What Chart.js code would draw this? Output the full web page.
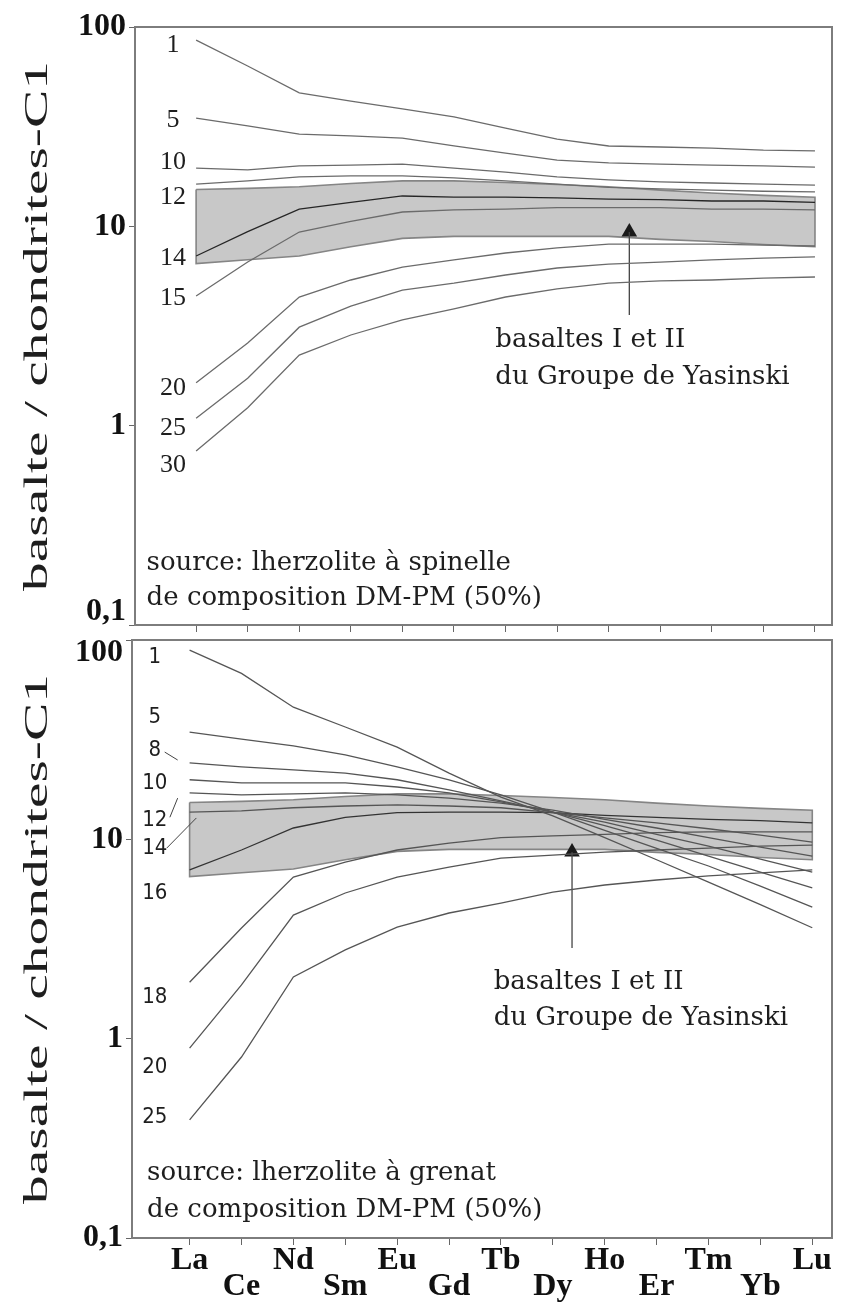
<!DOCTYPE html>
<html>
<head>
<meta charset="utf-8">
<script src="https://cdn.jsdelivr.net/npm/chart.js@4.4.1/dist/chart.umd.min.js"></script>
<style>
  body { margin: 0; background: #fff; width: 841px; height: 1304px; position: relative; overflow: hidden; }
  .panel { position: absolute; left: 0; }
  #topWrap { top: 0; }
  #botWrap { top: 600px; }
</style>
</head>
<body>
<div class="panel" id="topWrap"><canvas id="topChart" width="841" height="645"></canvas></div>
<div class="panel" id="botWrap"><canvas id="botChart" width="841" height="704"></canvas></div>
<script>
// REE, chondrite-normalised
const ree = ['La', 'Ce', 'Nd', 'Sm', 'Eu', 'Gd', 'Tb', 'Dy', 'Ho', 'Er', 'Tm', 'Yb', 'Lu'];
const yTicks = [0.1, 1, 10, 100];
const yTickLabels = ['0,1', '1', '10', '100'];
const yTitle = 'basalte / chondrites-C1';

// envelope of the Yasinski basalts I and II (same in both panels)
const bandUpper = [15.3, 15.5, 15.8, 16.4, 16.9, 16.9, 16.6, 16.2, 15.8, 15.2, 14.7, 14.3, 14.0];
const bandLower = [6.5, 6.8, 7.1, 7.9, 8.7, 8.9, 8.9, 8.9, 8.9, 8.6, 8.4, 8.1, 7.9];

// spinel lherzolite, % melting
const spinelNames = ['1', '5', '10', '12', '14', '15', '20', '25', '30'];
const sp1 = [86, 63.7, 46.7, 42.5, 38.8, 35.4, 31.1, 27.4, 25.3, 25.0, 24.7, 24.1, 23.9];
const sp5 = [34.9, 31.9, 29.0, 28.4, 27.7, 25.3, 23.3, 21.5, 20.8, 20.5, 20.3, 20.1, 19.8];
const sp10 = [19.6, 19.2, 20.1, 20.3, 20.5, 19.6, 18.7, 17.7, 17.1, 16.7, 16.5, 16.3, 16.1];
const sp12 = [16.3, 16.9, 17.7, 17.9, 17.9, 17.5, 16.9, 16.3, 15.7, 15.4, 15.2, 15.0, 14.9];
const sp14 = [7.1, 9.4, 12.2, 13.2, 14.2, 14.0, 14.0, 13.9, 13.7, 13.6, 13.4, 13.4, 13.2];
const sp15 = [4.47, 6.62, 9.36, 10.6, 11.8, 12.1, 12.2, 12.4, 12.4, 12.4, 12.2, 12.2, 12.1];
const sp20 = [1.64, 2.60, 4.42, 5.38, 6.25, 6.78, 7.35, 7.79, 8.15, 8.15, 8.15, 8.05, 7.97];
const sp25 = [1.09, 1.73, 3.12, 3.98, 4.79, 5.19, 5.70, 6.18, 6.47, 6.62, 6.78, 6.93, 7.02];
const sp30 = [0.746, 1.23, 2.26, 2.85, 3.39, 3.85, 4.42, 4.85, 5.19, 5.32, 5.38, 5.50, 5.57];
const spinelLabelY = [81, 34.1, 21.0, 14.0, 6.93, 4.37, 1.54, 0.97, 0.634];

// garnet lherzolite, % melting
const garnetNames = ['1', '5', '8', '10', '12', '14', '16', '18', '20', '25'];
const gt1 = [89, 68, 46, 36.6, 29, 21.5, 16.3, 13.1, 10.2, 7.9, 6.1, 4.7, 3.6];
const gt5 = [34.5, 31.8, 29.4, 26.5, 23.1, 19.9, 16.7, 13.7, 11.1, 9.0, 7.35, 5.83, 4.57];
const gt8 = [24.2, 23.1, 22.3, 21.5, 19.9, 17.7, 15.6, 13.7, 11.7, 9.9, 8.24, 6.85, 5.7];
const gt10 = [19.9, 19.2, 19.2, 19.2, 18.3, 17.1, 15.4, 13.7, 12.2, 10.6, 9.25, 7.96, 6.85];
const gt12 = [17.1, 16.7, 16.9, 17.1, 16.7, 16.1, 15.2, 14.0, 12.6, 11.4, 10.2, 9.15, 8.24];
const gt14 = [13.7, 13.9, 14.4, 14.7, 14.9, 14.7, 14.4, 13.6, 12.8, 12.1, 11.3, 10.5, 9.69];
const gt16 = [7.02, 8.84, 11.4, 12.9, 13.6, 13.7, 13.7, 13.6, 13.2, 12.9, 12.6, 12.4, 12.1];
const gt18 = [1.92, 3.59, 6.47, 7.69, 8.84, 9.58, 10.2, 10.4, 10.6, 10.8, 10.9, 10.9, 10.9];
const gt20 = [0.897, 1.86, 4.17, 5.38, 6.47, 7.26, 8.05, 8.34, 8.63, 8.84, 9.04, 9.25, 9.36];
const gt25 = [0.391, 0.809, 2.04, 2.79, 3.63, 4.27, 4.79, 5.44, 5.90, 6.25, 6.55, 6.78, 7.02];
const garnetLabelY = [82.2, 41.1, 28.1, 19.2, 12.5, 9.04, 5.38, 1.62, 0.72, 0.405];


const pts = vals => vals.map((v, i) => ({ x: i, y: v }));

const curve = (vals, color) => ({
    data: pts(vals),
    borderColor: color,
    borderWidth: 1.3,
    pointRadius: 0,
    fill: false,
    tension: 0
});

// the shaded envelope, drawn as one closed polygon
const band = () => {
    const ring = pts(bandUpper).concat(pts(bandLower).reverse());
    ring.push(ring[0]);
    return {
        data: ring,
        borderColor: '#858585',
        borderWidth: 1.6,
        backgroundColor: '#c8c8c8',
        pointRadius: 0,
        fill: 'shape',
        tension: 0
    };
};

// vertical arrow pointing at the envelope
const arrow = (x, from, to) => [
    { data: [{ x: x, y: from }, { x: x, y: to }], borderColor: '#444', borderWidth: 1.3, pointRadius: 0, fill: false },
    { data: [{ x: x, y: to }], showLine: false, pointStyle: 'triangle', pointRadius: 9,
      pointBackgroundColor: '#1a1a1a', pointBorderWidth: 0 }
];

// frame, curve numbers, notes and rotated axis title
const makeDeco = cfg => ({
    id: 'deco',
    afterDatasetsDraw(chart) {
        const { ctx, chartArea: a, scales: { x, y } } = chart;
        ctx.save();
        ctx.strokeStyle = '#7d7d7d';
        ctx.lineWidth = 2;
        ctx.strokeRect(a.left, a.top, a.right - a.left, a.bottom - a.top);

        ctx.fillStyle = '#1e1e1e';
        ctx.textAlign = 'center';
        ctx.textBaseline = 'middle';
        ctx.font = cfg.labelFont;
        cfg.names.forEach((t, i) => {
            ctx.fillText(t, x.getPixelForValue(cfg.labelX), y.getPixelForValue(cfg.labelY[i]));
        });

        ctx.strokeStyle = '#444';
        ctx.lineWidth = 1;
        (cfg.leaders || []).forEach(([x1, y1, x2, y2]) => {
            ctx.beginPath();
            ctx.moveTo(x.getPixelForValue(x1), y.getPixelForValue(y1));
            ctx.lineTo(x.getPixelForValue(x2), y.getPixelForValue(y2));
            ctx.stroke();
        });

        ctx.textAlign = 'left';
        ctx.font = cfg.noteFont;
        cfg.notes.forEach(n => {
            ctx.fillText(n.text, x.getPixelForValue(n.x), y.getPixelForValue(n.y));
        });

        ctx.translate(38, (a.top + a.bottom) / 2);
        ctx.rotate(-Math.PI / 2);
        ctx.font = '34px "Liberation Serif"';
        ctx.textAlign = 'center';
        const w = ctx.measureText(yTitle).width;
        ctx.scale(530 / w, 1);
        ctx.fillText(yTitle, 0, 0);
        ctx.restore();
    }
});

const makeChart = (id, datasets, p) => new Chart(document.getElementById(id), {
    type: 'line',
    data: { datasets: datasets },
    plugins: [makeDeco(p.deco)],
    options: {
        responsive: false,
        animation: false,
        layout: { padding: { top: p.padTop, right: 4, left: 0, bottom: 0 } },
        plugins: { legend: { display: false }, tooltip: { enabled: false } },
        scales: {
            x: {
                type: 'linear',
                min: p.xMin,
                max: p.xMax,
                afterFit: s => { s.height = p.xHeight; },
                afterBuildTicks: s => { s.ticks = ree.map((_, i) => ({ value: i })); },
                ticks: {
                    display: p.showX,
                    autoSkip: false,
                    maxRotation: 0,
                    padding: 3,
                    color: '#111',
                    font: { family: 'Liberation Serif', size: 32, weight: 'bold', lineHeight: 0.8 },
                    // every other element sits one row lower
                    callback: v => (v % 2 ? ['', ree[v]] : ree[v])
                },
                grid: { drawOnChartArea: false, tickLength: 7, color: '#666' },
                border: { display: false }
            },
            y: {
                type: 'logarithmic',
                min: 0.1,
                max: 100,
                afterFit: s => {
                    s.width = p.yWidth;
                    // labels may overflow the plot, the panel padding covers it
                    s.paddingTop = 0;
                    s.paddingBottom = 0;
                },
                afterBuildTicks: s => { s.ticks = yTicks.map(v => ({ value: v })); },
                ticks: {
                    padding: 3,
                    color: '#111',
                    font: { family: 'Liberation Serif', size: 32, weight: 'bold', lineHeight: 0.8 },
                    callback: p.yLabel
                },
                grid: { drawOnChartArea: false, tickLength: 6, color: '#666' },
                border: { display: false }
            }
        }
    }
});

const grey = '#6b6b6b';

makeChart('topChart', [
    curve(sp1, grey), curve(sp5, grey), curve(sp10, grey), curve(sp12, grey),
    curve(sp14, '#262626'), curve(sp15, grey), curve(sp20, grey), curve(sp25, grey), curve(sp30, grey),
    ...arrow(8.4, 3.59, 9.36),
    band()
], {
    padTop: 27, xHeight: 20, yWidth: 135, xMin: -1.185, xMax: 12.33, showX: false,
    // lift "0,1" so it clears the lower panel's "100"
    yLabel: v => (v === 0.1 ? ['0,1', ''] : yTickLabels[yTicks.indexOf(v)]),
    deco: {
        names: spinelNames, labelY: spinelLabelY, labelX: -0.45,
        labelFont: '26px "Liberation Serif"',
        noteFont: '26px "DejaVu Serif"',
        notes: [
            { text: 'basaltes I et II', x: 5.8, y: 2.69 },
            { text: 'du Groupe de Yasinski', x: 5.8, y: 1.75 },
            { text: 'source: lherzolite à spinelle', x: -0.96, y: 0.205 },
            { text: 'de composition DM-PM (50%)', x: -0.96, y: 0.136 }
        ]
    }
});

const dark = '#555';

makeChart('botChart', [
    curve(gt1, dark), curve(gt5, dark), curve(gt8, dark), curve(gt10, dark), curve(gt12, dark),
    curve(gt14, dark), curve(gt16, '#333'), curve(gt18, dark), curve(gt20, dark), curve(gt25, dark),
    ...arrow(7.37, 2.85, 8.63),
    band()
], {
    padTop: 40, xHeight: 66, yWidth: 132, xMin: -1.11, xMax: 12.38, showX: true,
    yLabel: v => (v === 100 ? ['', '100'] : yTickLabels[yTicks.indexOf(v)]),
    deco: {
        names: garnetNames, labelY: garnetLabelY, labelX: -0.67,
        labelFont: '22px "Liberation Sans Narrow", "DejaVu Sans Condensed", sans-serif',
        noteFont: '26px "DejaVu Serif"',
        leaders: [[-0.48, 27.4, -0.23, 25.0], [-0.38, 12.9, -0.23, 16.1], [-0.44, 9.04, 0.13, 12.8]],
        notes: [
            { text: 'basaltes I et II', x: 5.86, y: 1.92 },
            { text: 'du Groupe de Yasinski', x: 5.86, y: 1.27 },
            { text: 'source: lherzolite à grenat', x: -0.82, y: 0.212 },
            { text: 'de composition DM-PM (50%)', x: -0.82, y: 0.138 }
        ]
    }
});
</script>
</body>
</html>
